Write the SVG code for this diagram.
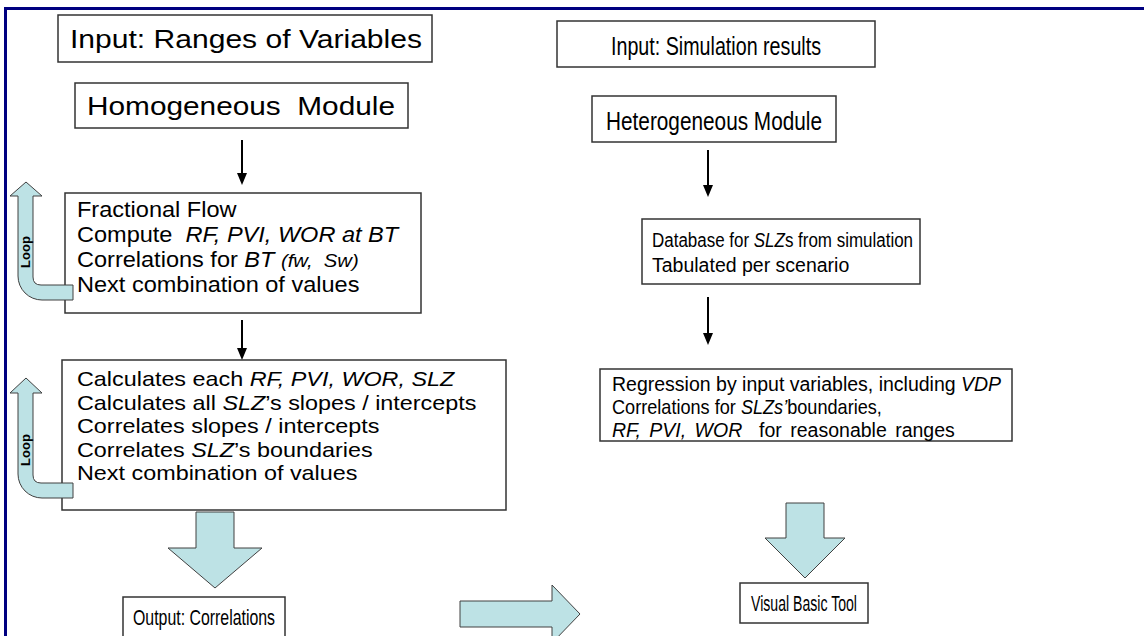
<svg xmlns="http://www.w3.org/2000/svg" width="1144" height="636" viewBox="0 0 1144 636">
<style>
.box{fill:#fff;stroke:#333;stroke-width:1.5}
.t{font-family:"Liberation Sans",Arial,sans-serif;fill:#000}
.title{font-size:25px}
.rtitle{font-size:26px}
.b1{font-size:22px}
.b2{font-size:20.5px}
.rbody{font-size:19.5px}
.i{font-style:italic}
.line{stroke:#000;stroke-width:2;fill:none}
.blk{fill:#BDE2E5;stroke:#404040;stroke-width:1}
.loop{font-family:"Liberation Sans",Arial,sans-serif;font-size:13px;font-weight:bold}
</style>
<rect width="1144" height="636" fill="#fff"/>
<g id="frame">
<line x1="4" y1="8.5" x2="1144" y2="8.5" stroke="#000080" stroke-width="3"/>
<line x1="5.5" y1="7" x2="5.5" y2="636" stroke="#000080" stroke-width="3"/>
</g>

<g id="connectors">
<line class="line" x1="242" y1="140" x2="242" y2="173"/>
<path d="M237,173 L247,173 L242,185 Z" fill="#000"/>
<line class="line" x1="242" y1="320" x2="242" y2="348"/>
<path d="M237,348 L247,348 L242,360 Z" fill="#000"/>
<line class="line" x1="708" y1="150" x2="708" y2="185"/>
<path d="M703,185 L713,185 L708,197 Z" fill="#000"/>
<line class="line" x1="708" y1="297" x2="708" y2="333"/>
<path d="M703,333 L713,333 L708,345 Z" fill="#000"/>
<path class="blk" d="M196,512 L234,512 L234,548 L262,548 L215,588 L168,548 L196,548 Z"/>
<path class="blk" d="M786,503 L824,503 L824,538 L845,538 L805,578 L765,538 L786,538 Z"/>
<path class="blk" d="M460,601 L552,601 L552,585 L580,614 L552,643 L552,627 L460,627 Z"/>
</g>

<g id="n-input-ranges">
<rect class="box" x="58" y="15" width="374" height="47"/>
<text class="t title" x="246" y="48" text-anchor="middle" textLength="352" lengthAdjust="spacingAndGlyphs">Input: Ranges of Variables</text>
</g>
<g id="n-homog">
<rect class="box" x="75" y="83" width="333" height="45"/>
<text class="t title" x="241" y="115" text-anchor="middle" textLength="308" lengthAdjust="spacingAndGlyphs" xml:space="preserve">Homogeneous  Module</text>
</g>
<g id="n-fracflow">
<rect class="box" x="65" y="193" width="356" height="120"/>
<text class="t b1" transform="translate(77,217) scale(1.07,1)">Fractional Flow</text>
<text class="t b1" transform="translate(77,242) scale(1.07,1)" xml:space="preserve">Compute  <tspan class="i">RF, PVI, WOR at BT</tspan></text>
<text class="t b1" transform="translate(77,267) scale(1.07,1)">Correlations for <tspan class="i">BT </tspan><tspan class="i" font-size="19" xml:space="preserve">(fw,  Sw)</tspan></text>
<text class="t b1" transform="translate(77,292) scale(1.07,1)">Next combination of values</text>
</g>
<g id="n-loop1">
<path class="blk" d="M26,182 L42,196 L33,196 L33,277 Q33,285 41,285 L73,285 L73,300 L42,300 A24,24 0 0 1 18,276 L18,196 L10,196 Z"/>
<text class="loop" transform="translate(30,252) rotate(-90)" text-anchor="middle">Loop</text>
</g>
<g id="n-calc">
<rect class="box" x="62" y="360" width="444" height="150"/>
<text class="t b2" transform="translate(77,386) scale(1.14,1)">Calculates each <tspan class="i">RF, PVI, WOR, SLZ</tspan></text>
<text class="t b2" transform="translate(77,409.5) scale(1.14,1)">Calculates all <tspan class="i">SLZ</tspan>’s slopes / intercepts</text>
<text class="t b2" transform="translate(77,433) scale(1.14,1)">Correlates slopes / intercepts</text>
<text class="t b2" transform="translate(77,456.5) scale(1.14,1)">Correlates <tspan class="i">SLZ</tspan>’s boundaries</text>
<text class="t b2" transform="translate(77,480) scale(1.14,1)">Next combination of values</text>
</g>
<g id="n-loop2">
<path class="blk" d="M26,378 L42,393 L33,393 L33,475 Q33,483 41,483 L73,483 L73,498 L42,498 A24,24 0 0 1 18,474 L18,393 L10,393 Z"/>
<text class="loop" transform="translate(30,450) rotate(-90)" text-anchor="middle">Loop</text>
</g>
<g id="n-output">
<rect class="box" x="123" y="597" width="162" height="45"/>
<text class="t" font-size="22" x="204" y="625" text-anchor="middle" textLength="142" lengthAdjust="spacingAndGlyphs">Output: Correlations</text>
</g>

<g id="n-input-sim">
<rect class="box" x="557" y="21" width="318" height="46"/>
<text class="t rtitle" x="716" y="55" text-anchor="middle" textLength="210" lengthAdjust="spacingAndGlyphs">Input: Simulation results</text>
</g>
<g id="n-heterog">
<rect class="box" x="592" y="96" width="244" height="46"/>
<text class="t rtitle" x="714" y="130" text-anchor="middle" textLength="216" lengthAdjust="spacingAndGlyphs">Heterogeneous Module</text>
</g>
<g id="n-database">
<rect class="box" x="642" y="219" width="278" height="65"/>
<text class="t rbody" transform="translate(652,247) scale(0.87,1)">Database for <tspan class="i">SLZ</tspan>s from simulation</text>
<text class="t rbody" x="652" y="272">Tabulated per scenario</text>
</g>
<g id="n-regression">
<rect class="box" x="600" y="369" width="412" height="72"/>
<text class="t rbody" x="612" y="391">Regression by input variables, including <tspan class="i">VDP</tspan></text>
<text class="t rbody" transform="translate(612,414) scale(0.93,1)">Correlations for <tspan class="i">SLZs’</tspan>boundaries,</text>
<text class="t rbody" x="612" y="437" word-spacing="3" xml:space="preserve"><tspan class="i">RF, PVI, WOR</tspan>  for reasonable ranges</text>
</g>
<g id="n-vbtool">
<rect class="box" x="740" y="583" width="128" height="40"/>
<text class="t" font-size="22" x="804" y="611" text-anchor="middle" textLength="106" lengthAdjust="spacingAndGlyphs">Visual Basic Tool</text>
</g>
</svg>
